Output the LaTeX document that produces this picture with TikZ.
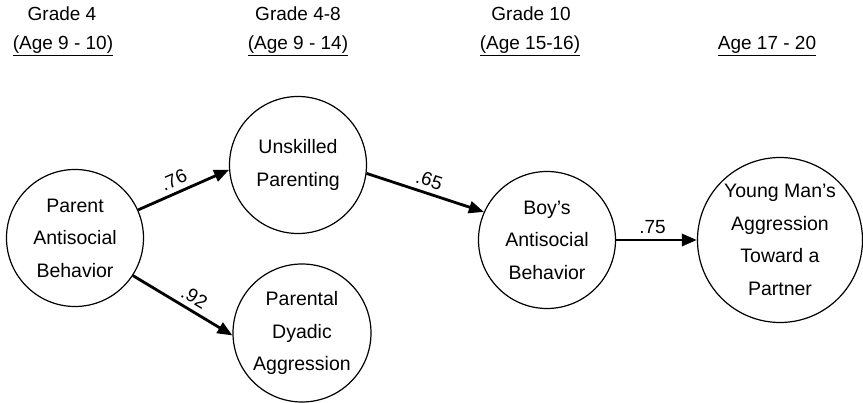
\documentclass[tikz,border=0pt]{standalone}
\usepackage{fontspec}
\setmainfont{Liberation Sans}
\usetikzlibrary{arrows.meta, positioning}

\tikzset{
  construct/.style={draw, circle, line width=1.2pt, inner sep=0pt,
    align=center, font=\fontsize{19.5}{32.5}\selectfont},
  pathline/.style={line width=2.8pt, -{Triangle[length=15pt,width=12pt]}},
  coef/.style={font=\fontsize{19}{22}\selectfont, above, sloped, inner sep=5pt},
  header/.style={font=\fontsize{19}{22}\selectfont}
}

\begin{document}
\begin{tikzpicture}[x=1pt,y=-1pt]
        \useasboundingbox (0,0) rectangle (863,403);
        % Time points
        \node[header] (grade1) at (62,14) {Grade 4};
        \node[header] (age1) at (63,46) {\underline{(Age 9 - 10)}};
        \node[header] (grade2) at (298,14) {Grade 4-8};
        \node[header] (age2) at (298,46) {\underline{(Age 9 - 14)}};
        \node[header] (grade3) at (531,14) {Grade 10};
        \node[header] (age3) at (530,46) {\underline{(Age 15-16)}};
        \node[header] (age4) at (767,46) {\underline{Age 17 - 20}};
        % Constructs
        \node[construct, minimum size=137pt] (parent) at (75,238)
          {Parent\\Antisocial\\Behavior};
        \node[construct, minimum size=137pt] (unskilled) at (298,165)
          {Unskilled\\Parenting};
        \node[construct, minimum size=138pt] (dyadic) at (302,333)
          {Parental\\Dyadic\\Aggression};
        \node[construct, minimum size=137pt] (boys) at (547,240)
          {Boy's\\Antisocial\\Behavior};
        \node[construct, minimum size=165pt] (youngman) at (780,240)
          {Young Man's\\Aggression\\Toward a\\Partner};
        % Paths with coefficients
        \draw[pathline] (parent.24) -- node[coef, pos=0.45]{.76} (unskilled.184);
        \draw[pathline] (parent.327) -- node[coef, pos=0.55]{.92} (dyadic.182);
        \draw[pathline] (unskilled.353) -- node[coef]{.65} (boys.156);
        \draw[pathline] (boys.east) -- node[coef, pos=0.45]{.75} (youngman.west);
      \end{tikzpicture}
\end{document}
